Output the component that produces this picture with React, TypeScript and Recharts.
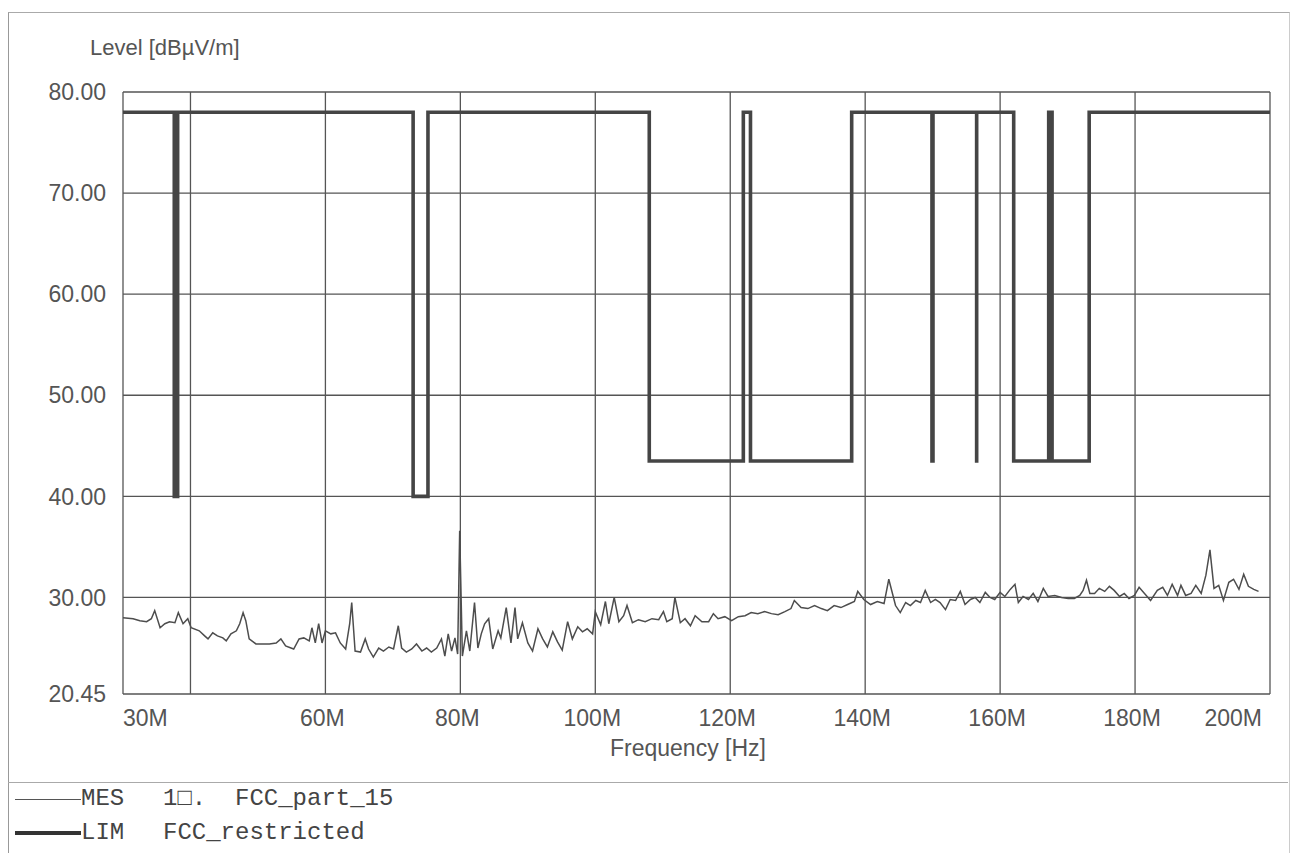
import { CartesianGrid, Line, LineChart, XAxis, YAxis } from 'recharts';

// measured trace (MES), MHz / dBµV/m
const mesFreq = [
  30.0, 31.5, 32.5, 33.5, 34.2, 34.7, 35.5, 36.2, 36.9, 37.7, 38.2, 38.9, 39.6, 40.1, 41.3, 42.1, 42.6, 43.3, 44.0, 44.8,
  45.3, 46.0, 46.8, 47.3, 47.8, 48.2, 48.7, 49.7, 50.7, 51.7, 52.7, 53.4, 54.1, 54.9, 55.3, 56.1, 56.8, 57.6, 58.0, 58.5,
  59.0, 59.5, 60.0, 60.8, 61.5, 62.2, 63.0, 63.6, 63.9, 64.4, 65.2, 65.9, 66.4, 67.1, 67.9, 68.6, 69.4, 70.1, 70.8, 71.3,
  72.0, 72.8, 73.5, 74.3, 75.0, 75.7, 76.5, 77.2, 77.7, 78.2, 78.7, 79.2, 79.6, 79.9, 80.3, 80.9, 81.4, 82.1, 82.6, 83.1,
  83.6, 84.2, 84.8, 85.6, 86.0, 86.8, 87.5, 88.1, 88.5, 89.2, 90.0, 90.7, 91.5, 92.2, 92.9, 93.7, 94.4, 95.1, 95.9, 96.6,
  97.4, 98.1, 98.8, 99.6, 100.0, 100.8, 101.5, 102.0, 102.8, 103.5, 104.2, 104.7, 105.5, 106.4, 107.4, 108.4, 109.4, 110.1, 110.6, 111.4,
  111.8, 112.6, 113.3, 114.1, 114.8, 115.8, 116.8, 117.5, 118.2, 119.2, 120.2, 121.2, 122.2, 123.1, 124.1, 125.1, 126.1, 127.1, 128.1, 129.0,
  129.5, 130.5, 131.5, 132.5, 133.5, 134.4, 135.4, 136.4, 137.4, 138.4, 138.9, 139.8, 140.8, 141.8, 142.8, 143.5, 144.5, 145.2, 146.0, 146.7,
  147.5, 148.2, 148.9, 149.7, 150.4, 151.1, 151.9, 152.6, 153.4, 154.1, 154.8, 155.6, 156.3, 157.0, 157.8, 158.5, 159.2, 160.0, 160.7, 161.5,
  162.2, 162.7, 163.4, 164.2, 164.9, 165.6, 166.4, 167.1, 168.1, 169.1, 170.1, 171.0, 171.8, 172.3, 172.8, 173.3, 174.0, 174.7, 175.5, 176.2,
  176.9, 177.7, 178.4, 179.1, 179.9, 180.6, 181.4, 182.3, 183.3, 184.1, 184.8, 185.5, 186.3, 186.8, 187.5, 188.3, 189.0, 189.8, 190.5, 191.1,
  191.7, 192.4, 193.1, 193.9, 194.6, 195.4, 196.1, 196.8, 197.6, 198.3,
];
const mesLevel = [
  28.0, 27.9, 27.7, 27.6, 27.9, 28.7, 27.0, 27.4, 27.6, 27.5, 28.5, 27.4, 27.9, 27.0, 26.7, 26.2, 25.9, 26.5, 26.2, 26.0,
  25.7, 26.4, 26.7, 27.4, 28.5, 27.7, 25.9, 25.4, 25.4, 25.4, 25.5, 25.9, 25.2, 25.0, 24.9, 25.9, 26.0, 25.7, 27.0, 25.5,
  27.4, 25.5, 26.7, 26.4, 26.5, 25.5, 24.9, 27.4, 29.5, 24.7, 24.6, 25.9, 24.9, 24.1, 25.0, 24.7, 25.1, 24.9, 27.2, 25.0,
  24.6, 24.9, 25.4, 24.7, 25.0, 24.6, 25.0, 25.9, 24.2, 26.4, 24.7, 26.0, 24.4, 36.6, 24.2, 26.7, 24.7, 29.5, 25.0, 26.4,
  27.4, 27.9, 24.9, 26.7, 26.0, 29.0, 25.5, 29.0, 25.9, 27.5, 25.5, 24.7, 26.9, 25.9, 25.1, 26.6, 25.6, 24.8, 27.6, 25.9,
  27.1, 26.6, 26.9, 26.4, 28.6, 27.3, 29.6, 27.4, 30.0, 27.6, 28.2, 29.2, 27.5, 27.8, 27.6, 27.9, 27.8, 28.6, 27.6, 27.9,
  30.0, 27.5, 27.9, 27.2, 28.2, 27.6, 27.6, 28.4, 27.9, 28.1, 27.7, 28.1, 28.2, 28.5, 28.4, 28.6, 28.4, 28.3, 28.6, 28.9,
  29.7, 29.0, 28.9, 29.2, 28.9, 28.7, 29.2, 29.0, 29.3, 29.6, 30.6, 29.8, 29.3, 29.6, 29.4, 31.8, 29.2, 28.5, 29.5, 29.2,
  29.7, 29.5, 30.7, 29.5, 29.8, 29.5, 28.8, 29.8, 29.7, 30.6, 29.3, 29.8, 30.0, 29.5, 30.5, 30.0, 29.8, 30.5, 30.1, 30.8,
  31.3, 29.5, 30.1, 29.8, 30.4, 29.6, 30.9, 30.1, 30.2, 30.0, 29.9, 29.9, 30.2, 30.7, 31.7, 30.4, 30.4, 30.9, 30.6, 31.1,
  30.7, 30.1, 30.4, 29.9, 30.2, 31.0, 30.4, 29.7, 30.7, 31.0, 30.2, 31.3, 30.2, 31.2, 30.2, 30.4, 31.2, 30.4, 32.2, 34.7,
  30.9, 31.2, 29.7, 31.5, 31.8, 30.8, 32.3, 31.1, 30.8, 30.6,
];

// limit line (LIM), restricted bands dropped to the limit
const limFreq = [
  30, 37.6, 37.6, 38.1, 38.1, 73, 73, 75.2, 75.2, 108, 108, 121.94, 121.94, 123, 123, 138, 138,
  149.9, 149.9, 150.05, 150.05, 156.52, 156.52, 156.525, 156.525, 162.0125, 162.0125, 167.2, 167.2,
  167.7, 167.7, 173.2, 173.2, 200,
];
const limLevel = [
  78, 78, 40, 40, 78, 78, 40, 40, 78, 78, 43.5, 43.5, 78, 78, 43.5, 43.5, 78,
  78, 43.5, 43.5, 78, 78, 43.5, 43.5, 78, 78, 43.5, 43.5, 78,
  78, 43.5, 43.5, 78, 78,
];

const yTicks = [20.45, 30, 40, 50, 60, 70, 80];
const xTicks = [30, 40, 60, 80, 100, 120, 140, 160, 180, 200];

const mesData = mesFreq.map((f, i) => ({ f, v: mesLevel[i] }));
const limData = limFreq.map((f, i) => ({ f, v: limLevel[i] }));

const INK = '#4d4d4d';
const SANS = '"Liberation Sans", Arial, sans-serif';
const MONO = '"Liberation Mono", "Courier New", monospace';

function FreqTick(props: any) {
  const { x, y, payload } = props;
  const v = payload.value;
  if (v === 40) return <g />;
  const anchor = v === 30 ? 'start' : v === 200 ? 'end' : 'middle';
  const dx = v === 30 ? 0 : v === 200 ? -8 : -3;
  return (
    <text x={x + dx} y={y + 24} textAnchor={anchor} fill="#555" fontSize={23} fontFamily={SANS}>
      {v}M
    </text>
  );
}

const legendText = { position: 'absolute' as const, fontFamily: MONO, fontSize: 24, color: '#444', lineHeight: '28px', whiteSpace: 'pre' as const };

export default function App() {
  return (
    <div style={{ position: 'absolute', left: 0, top: 0, width: 1294, height: 853, background: '#fff' }}>
      {/* page frame */}
      <div style={{ position: 'absolute', left: 8, top: 12, width: 1280, height: 841, borderLeft: '1px solid #999', borderTop: '1px solid #aaa', borderRight: '1px solid #ccc' }} />
      <div style={{ position: 'absolute', left: 8, top: 782, width: 1280, height: 0, borderTop: '1px solid #aaa' }} />

      <div style={{ position: 'absolute', left: 90, top: 34, fontFamily: SANS, fontSize: 22, color: '#555', lineHeight: '28px' }}>
        Level [dBµV/m]
      </div>

      <div style={{ position: 'absolute', left: 0, top: 0 }}>
        <LineChart width={1294} height={853} data={mesData} margin={{ top: 92, right: 24, bottom: 99, left: 20 }}>
          <CartesianGrid stroke="#555" strokeWidth={1.3} horizontalValues={yTicks} verticalValues={xTicks} />
          <XAxis
            dataKey="f"
            type="number"
            domain={[30, 200]}
            ticks={xTicks}
            allowDataOverflow
            axisLine={false}
            tickLine={false}
            height={60}
            interval={0}
            tick={<FreqTick />}
          />
          <YAxis
            type="number"
            domain={[20.45, 80]}
            ticks={yTicks}
            allowDataOverflow
            axisLine={false}
            tickLine={false}
            width={103}
            interval={0}
            tickMargin={11}
            tickFormatter={(v: number) => v.toFixed(2)}
            tick={{ fill: '#555', fontSize: 23, fontFamily: SANS }}
          />
          <Line data={mesData} dataKey="v" type="linear" stroke={INK} strokeWidth={1.5} dot={false} isAnimationActive={false} />
          <Line data={limData} dataKey="v" type="linear" stroke="#454545" strokeWidth={3.6} strokeLinejoin="miter" dot={false} isAnimationActive={false} />
        </LineChart>
      </div>

      <div style={{ position: 'absolute', left: 610, top: 734, fontFamily: SANS, fontSize: 23, color: '#555', lineHeight: '28px' }}>
        Frequency [Hz]
      </div>

      {/* legend */}
      <div style={{ position: 'absolute', left: 15, top: 799, width: 66, height: 0, borderTop: '1.5px solid #555' }} />
      <div style={{ position: 'absolute', left: 15, top: 831, width: 66, height: 0, borderTop: '4px solid #333' }} />
      <div style={{ ...legendText, left: 81, top: 785 }}>MES</div>
      <div style={{ ...legendText, left: 163, top: 785 }}>{'1\u25A1.'}</div>
      <div style={{ ...legendText, left: 235, top: 785 }}>FCC_part_15</div>
      <div style={{ ...legendText, left: 81, top: 819 }}>LIM</div>
      <div style={{ ...legendText, left: 163, top: 819 }}>FCC_restricted</div>
    </div>
  );
}
